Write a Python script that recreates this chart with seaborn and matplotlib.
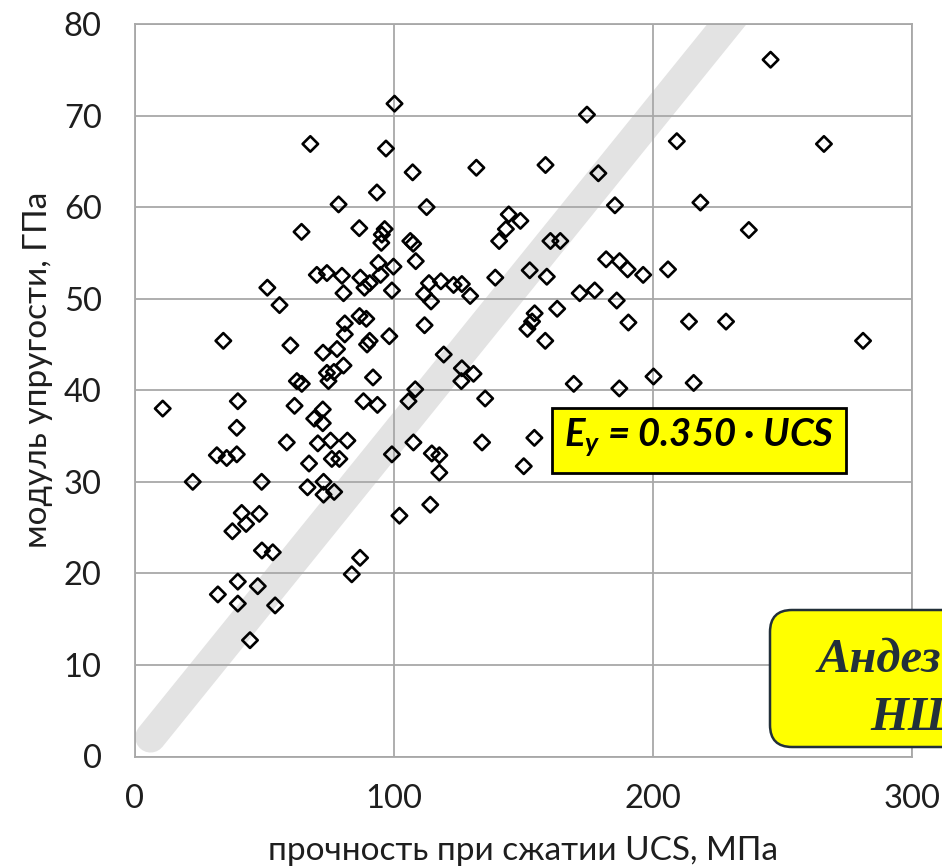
import matplotlib
matplotlib.use("Agg")
import matplotlib.pyplot as plt
import seaborn as sns
import pandas as pd
from matplotlib.patches import Rectangle, FancyBboxPatch

# ---- data ----
ucs = [100.2, 67.7, 96.9, 107.2, 93.4, 78.6, 112.6, 64.3, 86.6, 96.4, 95.3, 95.1, 106.3, 107.4, 108.4, 94.0, 99.8, 94.8,
       70.2, 74.1, 79.9, 87.0, 90.6, 88.6, 80.5, 99.2, 51.1, 55.8, 81.0, 86.7, 89.3, 81.0, 98.2, 90.6, 89.6, 34.1,
       60.0, 72.6, 78.0, 80.5, 74.1, 76.8, 74.7, 91.9, 62.5, 64.4, 39.7, 10.7, 61.6, 88.2, 93.6, 108.2, 105.6, 72.5,
       69.2, 72.5, 39.3, 58.6, 70.6, 75.5, 82.0, 107.5, 31.6, 35.4, 39.3, 67.2, 76.0, 78.9, 99.2, 22.3, 48.9, 66.6,
       72.8, 76.9, 72.8, 41.2, 48.0, 102.1,
       37.6, 42.9, 49.0, 53.2, 86.9, 83.7, 39.7, 47.4, 32.0, 39.7, 54.1, 44.4,
       174.5, 209.2, 131.8, 158.5, 178.9, 185.3, 218.3, 144.3, 148.8, 143.2, 140.6, 160.4, 164.2, 181.9, 187.1,
       190.2, 196.2, 205.8, 152.4, 159.0, 139.1,
       113.5, 118.1, 123.0, 126.2, 129.4, 111.6, 114.3, 171.7, 177.5, 186.0, 154.3, 163.0, 153.3, 151.5, 158.4,
       190.5, 213.9, 228.2, 111.8, 119.2, 126.2, 130.7, 126.0, 135.2, 169.4, 187.0, 200.2, 215.7, 134.0, 154.2,
       114.6, 117.5, 117.5, 150.1, 114.0,
       245.4, 266.0, 237.0, 281.1]
modulus = [71.3, 66.9, 66.4, 63.8, 61.6, 60.3, 60.0, 57.3, 57.7, 57.6, 57.0, 56.1, 56.3, 56.0, 54.1, 53.9, 53.5, 52.6,
           52.6, 52.8, 52.5, 52.3, 51.7, 51.2, 50.6, 50.9, 51.2, 49.3, 47.3, 48.1, 47.8, 46.1, 45.9, 45.4, 45.0, 45.4,
           44.9, 44.1, 44.5, 42.7, 41.9, 42.0, 41.0, 41.4, 41.0, 40.7, 38.8, 38.0, 38.3, 38.8, 38.4, 40.1, 38.8, 37.9,
           36.9, 36.4, 35.9, 34.3, 34.2, 34.5, 34.5, 34.3, 32.9, 32.6, 33.0, 32.0, 32.5, 32.5, 33.0, 30.0, 30.0, 29.4,
           30.0, 28.9, 28.6, 26.6, 26.5, 26.3,
           24.6, 25.4, 22.5, 22.3, 21.7, 19.9, 19.1, 18.6, 17.7, 16.7, 16.5, 12.7,
           70.1, 67.2, 64.3, 64.6, 63.7, 60.2, 60.5, 59.2, 58.5, 57.6, 56.3, 56.3, 56.3, 54.3, 54.1,
           53.2, 52.6, 53.2, 53.1, 52.4, 52.3,
           51.7, 51.9, 51.5, 51.6, 50.3, 50.5, 49.7, 50.6, 50.9, 49.8, 48.4, 48.9, 47.5, 46.7, 45.4,
           47.4, 47.5, 47.5, 47.1, 43.9, 42.4, 41.8, 41.0, 39.1, 40.7, 40.2, 41.5, 40.8, 34.3, 34.8,
           33.1, 32.9, 31.0, 31.7, 27.5,
           76.1, 66.9, 57.5, 45.4]
slope = 0.350
fit_ucs = [6.0, 245.0]
x_ticks = [0, 100, 200, 300]
y_ticks = [0, 10, 20, 30, 40, 50, 60, 70, 80]
x_label = "прочность при сжатии UCS, МПа"
y_label = "модуль упругости, ГПа"

df = pd.DataFrame({"ucs": ucs, "E": modulus})
fit = pd.DataFrame({"ucs": fit_ucs, "E": [slope * v for v in fit_ucs]})

sns.set_theme(style="white")
plt.rcParams["font.family"] = ["Lato", "DejaVu Sans"]
plt.rcParams["mathtext.fontset"] = "custom"
plt.rcParams["mathtext.it"] = "Lato:italic:bold"
plt.rcParams["mathtext.rm"] = "Lato:italic:bold"

W, H = 942, 868
fig = plt.figure(figsize=(W / 100, H / 100), dpi=100)
fig.patch.set_facecolor("white")
ax = fig.add_axes([135 / W, (H - 756.5) / H, 777 / W, 732.5 / H])

grid_c = "#A8A8A8"
# fitted band
sns.lineplot(data=fit, x="ucs", y="E", ax=ax, color="#E3E3E3", linewidth=22,
             solid_capstyle="round", zorder=0.4, legend=False)

sns.scatterplot(data=df, x="ucs", y="E", ax=ax, marker="D", s=62,
                facecolor="none", edgecolor="black", linewidth=1.9, zorder=3, legend=False)

ax.set_xlim(0, 300)
ax.set_ylim(0, 80)
ax.set_xticks(x_ticks)
ax.set_yticks(y_ticks)
ax.grid(True, color=grid_c, linewidth=1.3)
ax.set_axisbelow(True)
for sp in ax.spines.values():
    sp.set_color(grid_c)
    sp.set_linewidth(1.3)
ax.tick_params(axis="both", which="major", length=4, width=1.3, color=grid_c,
               labelsize=23.5, labelcolor="#1e1e1e", direction="out")
ax.tick_params(axis="y", pad=20)
ax.tick_params(axis="x", pad=16)
ax.set_xlabel(x_label, fontsize=24, color="#1e1e1e")
ax.set_ylabel(y_label, fontsize=24, color="#1e1e1e")
ax.xaxis.set_label_coords(0.499, -0.108)
ax.yaxis.set_label_coords(-0.106, 0.528)

# equation box
bx0, bx1 = (551.7 - 135) / 777, (846 - 135) / 777
by0, by1 = (756.5 - 472.7) / 732.5, (756.5 - 408) / 732.5
ax.add_patch(Rectangle((bx0, by0), bx1 - bx0, by1 - by0, transform=ax.transAxes,
                       facecolor="#FFFF00", edgecolor="black", linewidth=2, zorder=5))
ax.text((bx0 + bx1) / 2, (by0 + by1) / 2 + 0.005, r"$E_y$ = 0.350 · UCS", transform=ax.transAxes,
        ha="center", va="center", fontsize=27.5, fontweight="bold", fontstyle="italic",
        color="black", zorder=6)

# bottom-right label box (partly outside the figure, as in the reference)
box = FancyBboxPatch((7.70, (H - 747) / 100), 4.0, 1.37,
                     boxstyle="round,pad=0,rounding_size=0.22",
                     transform=fig.dpi_scale_trans, facecolor="#FFFF00",
                     edgecolor="#22303A", linewidth=1.8, zorder=10, clip_on=False)
fig.add_artist(box)
fig.text(818 / W, (H - 672) / H, "Андезиты", fontsize=35, fontweight="bold", fontstyle="italic",
         family=["Liberation Serif"], color="#22303A", ha="left", va="baseline", zorder=11)
fig.text(870 / W, (H - 730) / H, "НШ", fontsize=35, fontweight="bold", fontstyle="italic",
         family=["Liberation Serif"], color="#22303A", ha="left", va="baseline", zorder=11)

fig.savefig("out.png", dpi=100, facecolor="white")
